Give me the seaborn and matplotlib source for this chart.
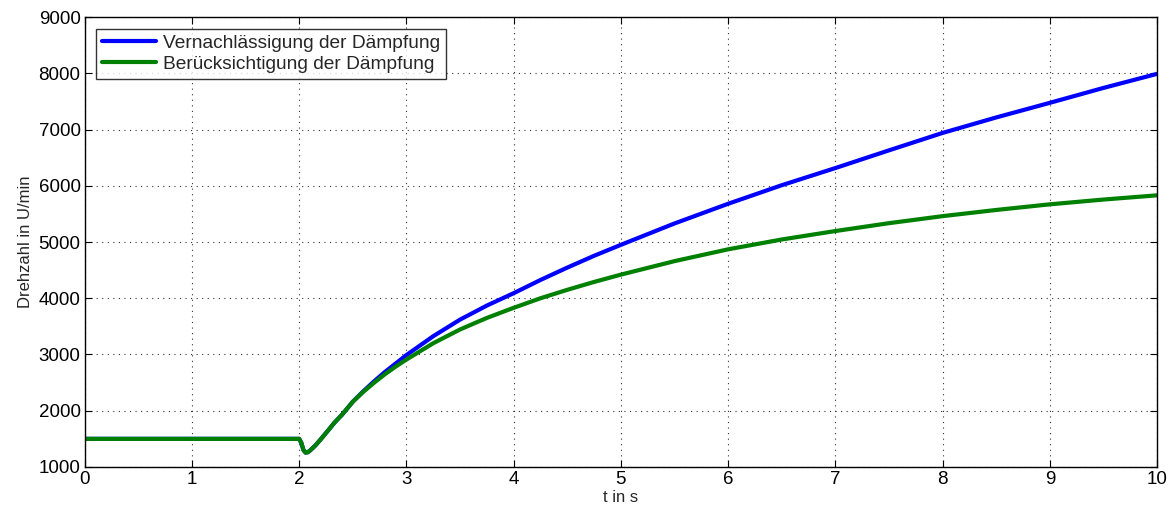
import numpy as np
import pandas as pd
import matplotlib
matplotlib.use("Agg")
import matplotlib.pyplot as plt
import seaborn as sns

# Speed response (U/min) over time (s) for a load step at t = 2 s
t_common = [0.0, 1.0, 2.0, 2.02, 2.04, 2.06, 2.08, 2.1, 2.15, 2.2, 2.27, 2.33, 2.4, 2.5]
n_common = [1500, 1500, 1500, 1430, 1300, 1255, 1262, 1290, 1380, 1490, 1650, 1790, 1930, 2160]

t_tail = [2.6, 2.7, 2.8, 2.9, 3.0, 3.25, 3.5, 3.75, 4.0, 4.25, 4.5, 4.75, 5.0, 5.5, 6.0,
          6.5, 7.0, 7.5, 8.0, 8.5, 9.0, 9.5, 10.0]
n_ohne = [2350, 2525, 2690, 2840, 2990, 3325, 3620, 3870, 4090, 4325, 4545, 4755, 4950,
          5330, 5680, 6010, 6315, 6630, 6940, 7215, 7475, 7740, 7990]
n_mit = [2340, 2500, 2650, 2785, 2910, 3200, 3445, 3650, 3830, 4000, 4150, 4290, 4420,
         4660, 4870, 5045, 5195, 5335, 5460, 5570, 5670, 5755, 5830]

series_names = ["Vernachlässigung der Dämpfung", "Berücksichtigung der Dämpfung"]
series_colors = ["#0000ff", "#008000"]

x_ticks = list(range(0, 11))
y_ticks = list(range(1000, 10000, 1000))

frames = []
for name, tail in zip(series_names, [n_ohne, n_mit]):
    frames.append(pd.DataFrame({
        "t": t_common + t_tail,
        "n": n_common + tail,
        "Fall": name,
    }))
df = pd.concat(frames, ignore_index=True)

sns.set_style("ticks")
plt.rcParams["font.family"] = ["Liberation Sans", "DejaVu Sans"]

fig = plt.figure(figsize=(11.76, 5.16), dpi=100)
ax = fig.add_axes([0.072, 0.095, 0.912, 0.872])

sns.lineplot(data=df, x="t", y="n", hue="Fall", hue_order=series_names,
             palette=series_colors, linewidth=3.0, ax=ax, sort=False,
             estimator=None)

ax.set_xlim(0, 10)
ax.set_ylim(1000, 9000)
ax.set_xticks(x_ticks)
ax.set_yticks(y_ticks)
ax.tick_params(direction="in", length=5, width=0.8, colors="black",
               labelsize=13.5, top=True, right=True, pad=3)
ax.grid(True, linestyle=(0, (1, 4)), color="#333333", linewidth=0.8)
for s in ax.spines.values():
    s.set_visible(True)
    s.set_color("black")
    s.set_linewidth(1.0)

ax.set_xlabel("t in s", fontsize=12, labelpad=1)
ax.set_ylabel("Drehzahl in U/min", fontsize=12, labelpad=4)

leg = ax.legend(loc="upper left", fontsize=13.8, frameon=True, fancybox=False,
                edgecolor="black", handlelength=2.8, borderpad=0.3,
                labelspacing=0.2, handletextpad=0.4, borderaxespad=0.6)
leg.get_frame().set_linewidth(1.0)
leg.set_title(None)

fig.savefig("out.png", dpi=100)
